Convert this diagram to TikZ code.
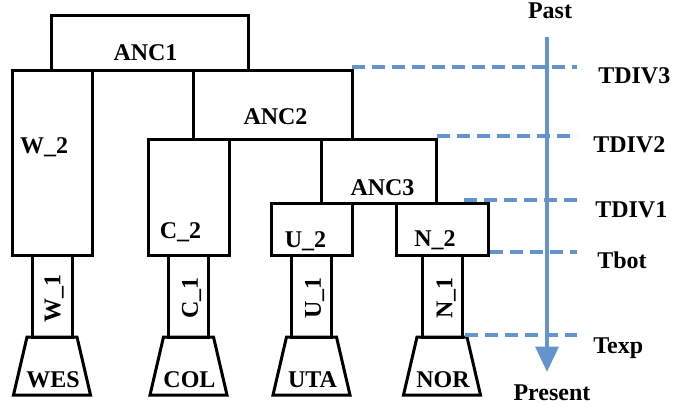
\documentclass[tikz,border=0pt]{standalone}
\usepackage{fontspec}
\setmainfont{Liberation Serif}
\usetikzlibrary{arrows.meta}
\definecolor{ink}{HTML}{000000}
\definecolor{timeblue}{HTML}{6394CE}

\begin{document}
\begin{tikzpicture}[
  x=0.75pt,y=-0.75pt,
  box/.style={draw=ink, line width=2.25pt, inner sep=0pt, outer sep=0pt,
    anchor=north west},
  branch/.style={draw=ink, line width=2.25pt, inner sep=0pt, outer sep=0pt,
    minimum width=30pt, minimum height=61.5pt, anchor=north},
  popline/.style={draw=ink, line width=2.25pt, line join=miter},
  lbl/.style={font=\bfseries\fontsize{18}{20}\selectfont, text=ink,
    inner sep=0pt},
  tdiv/.style={draw=timeblue, line width=3pt, dash pattern=on 10pt off 5pt},
  timeaxis/.style={draw=timeblue, line width=3pt,
    -{Triangle[length=19pt,width=17pt]}}
]
\useasboundingbox (0,0) rectangle (681,405);

% Ancestral boxes, top down.
\node[box, minimum width=147.75pt, minimum height=41.25pt] (anc1) at (51,15) {};
\node[box, minimum width=60pt, minimum height=138.75pt] (w2) at (12,70) {};
\node[box, minimum width=119.25pt, minimum height=51.75pt] (anc2) at (193,70) {};
\node[box, minimum width=60.75pt, minimum height=87pt] (c2) at (148,139) {};
\node[box, minimum width=86.25pt, minimum height=48pt] (anc3) at (321,139) {};
\node[box, minimum width=60.75pt, minimum height=39pt] (u2) at (271,203) {};
\node[box, minimum width=69pt, minimum height=39pt] (n2) at (396,203) {};

\node[lbl] (anc1lbl) at ([shift={(-4,10)}]anc1.center) {ANC1};
\node[lbl] (anc2lbl) at ([shift={(3,12)}]anc2.center) {ANC2};
\node[lbl] (anc3lbl) at ([shift={(4,17)}]anc3.center) {ANC3};
\node[lbl] (w2lbl) at ([shift={(-8,-15)}]w2.center) {W\_2};
\node[lbl] (c2lbl) at ([shift={(-8,35)}]c2.center) {C\_2};
\node[lbl] (u2lbl) at ([shift={(-6,12)}]u2.center) {U\_2};
\node[lbl] (n2lbl) at ([shift={(-7,11)}]n2.center) {N\_2};

% Terminal branches and sampled populations.
\foreach \up/\br/\pp/\name in {w2/w1/wes/WES, c2/c1/col/COL,
    u2/u1/uta/UTA, n2/n1/nor/NOR} {
  \node[branch] (\br) at (\up.south) {};
  \draw[popline] ([shift={(-5,0)}]\br.south west)
    -- ([shift={(5,0)}]\br.south east)
    -- ([shift={(18.5,58)}]\br.south east)
    -- ([shift={(-18.5,58)}]\br.south west) -- cycle;
  \node[lbl] (\pp) at ([shift={(1,43)}]\br.south) {\name};
}
\node[lbl, rotate=90] (w1lbl) at ([shift={(2,2)}]w1.center) {W\_1};
\node[lbl, rotate=90] (c1lbl) at ([shift={(3,2)}]c1.center) {C\_1};
\node[lbl, rotate=90] (u1lbl) at ([shift={(3,2)}]u1.center) {U\_1};
\node[lbl, rotate=90] (n1lbl) at ([shift={(4,2)}]n1.center) {N\_1};

% Time axis.
\coordinate (past) at (547,37);
\coordinate (present) at (547,372);
\coordinate (rim) at (577,0);
\draw[timeaxis] (past) -- (present);
\node[lbl, anchor=base] (pastlbl) at (550,18) {Past};
\node[lbl, anchor=base] (presentlbl) at (552,400) {Present};

% Time slices.
\coordinate (t3) at ([shift={(0,-3)}]anc2.north east);
\coordinate (t2) at ([shift={(1,-3)}]anc3.north east);
\coordinate (t1) at ([shift={(-24,-3)}]n2.north east);
\coordinate (tb) at ([shift={(2,-3)}]n2.south east);
\coordinate (te) at ([shift={(3,-2)}]n1.south east);
\foreach \t in {t3,t2,t1,tb,te}
  \draw[tdiv] (\t) -- (\t -| rim);

\node[lbl, anchor=base west] (t3lbl) at (598,83) {TDIV3};
\node[lbl, anchor=base west] (t2lbl) at (593,152) {TDIV2};
\node[lbl, anchor=base west] (t1lbl) at (595,217) {TDIV1};
\node[lbl, anchor=base west] (tblbl) at (597,268) {Tbot};
\node[lbl, anchor=base west] (telbl) at (593,353) {Texp};

\end{tikzpicture}
\end{document}
